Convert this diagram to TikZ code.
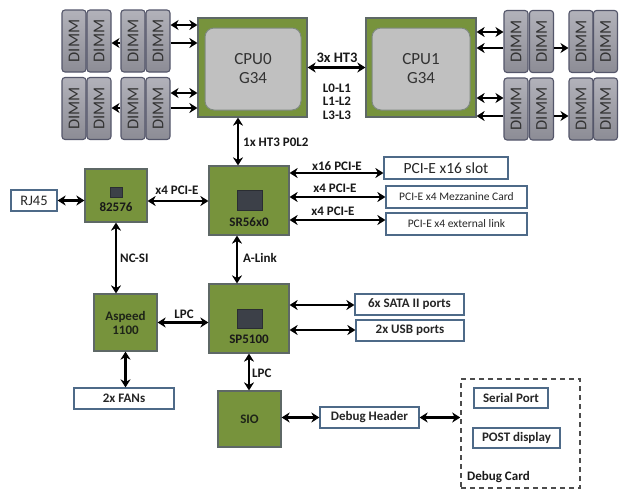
\documentclass[tikz,border=0pt]{standalone}
\usepackage{fontspec}
\setmainfont{Carlito}
\usetikzlibrary{arrows.meta,calc}
\definecolor{grnf}{HTML}{77933C}
\definecolor{grnb}{HTML}{5E6866}
\definecolor{cpuin}{HTML}{C0C0C0}
\definecolor{cpuinb}{HTML}{7F8A80}
\definecolor{chip}{HTML}{3C4048}
\definecolor{dimmt}{HTML}{B2B2BA}
\definecolor{dimmb}{HTML}{8C8C95}
\definecolor{dimmd}{HTML}{54566A}
\definecolor{boxb}{HTML}{4E6A88}
\definecolor{txt}{HTML}{1E2418}
\newcommand\myfs[1]{\fontsize{#1}{#1}\selectfont}
\tikzset{
  grn/.style={draw=grnb, fill=grnf, line width=1.2pt, inner sep=0pt, text=txt},
  cpuin/.style={draw=cpuinb, fill=cpuin, line width=1pt, rounded corners=9pt, inner sep=0pt, align=center, text=black!80, font=\myfs{17}},
  chipsq/.style={fill=chip, draw=chip!70!black, inner sep=0pt},
  dimm/.style={draw=dimmd, top color=dimmt, bottom color=dimmb, line width=1.1pt, rounded corners=3pt, minimum width=24pt, minimum height=62pt, inner sep=0pt, text=black!80, font=\myfs{16.5}},
  wbox/.style={draw=boxb, fill=white, line width=1.2pt, inner sep=0pt, text=black!85},
  blab/.style={font=\bfseries\myfs{13}, text=black!90, inner sep=0pt},
  dbl/.style={line width=2.3pt, {Stealth[length=8pt,width=10pt,inset=2.5pt]}-{Stealth[length=8pt,width=10pt,inset=2.5pt]}},
  sgl/.style={line width=2.3pt, -{Stealth[length=8pt,width=10pt,inset=2.5pt]}},
}
\begin{document}
\begin{tikzpicture}[x=1pt,y=-1pt]
\useasboundingbox (0,0) rectangle (630,493);
\fill[white] (0,0) rectangle (630,493);
% CPUs
\node[grn, minimum width=109pt, minimum height=99pt] (cpu0) at (252.5,67.5) {};
\node[cpuin, minimum width=96pt, minimum height=82pt] (cpu0i) at (253,69) {CPU0\\[2pt]G34};
\node[grn, minimum width=110pt, minimum height=99pt] (cpu1) at (421,67.5) {};
\node[cpuin, minimum width=98pt, minimum height=82pt] (cpu1i) at (421,69) {CPU1\\[2pt]G34};
% DIMMs left
\foreach \n/\x in {1/74,2/99,3/133,4/158}{
  \node[dimm] (lt\n) at (\x,41) {\rotatebox{90}{DIMM}};
  \node[dimm] (lb\n) at (\x,108.5) {\rotatebox{90}{DIMM}};
}
% DIMMs right
\foreach \n/\x in {1/516,2/541.5,3/581,4/605.5}{
  \node[dimm] (rt\n) at (\x,41.5) {\rotatebox{90}{DIMM}};
  \node[dimm] (rb\n) at (\x,109) {\rotatebox{90}{DIMM}};
}
% DIMM arrows left
\draw[dbl] ([yshift=16pt]lt4.east) coordinate (a1) -- (a1 -| cpu0.west);
\draw[sgl] ([yshift=-2pt]lt4.east) coordinate (a2) -- (a2 -| cpu0.west);
\draw[sgl] ([yshift=-2pt]lt3.west) coordinate (a3) -- (a3 -| lt2.east);
\draw[dbl] ([yshift=15.5pt]lb4.east) coordinate (a4) -- (a4 -| cpu0.west);
\draw[sgl] ([yshift=0.5pt]lb4.east) coordinate (a5) -- (a5 -| cpu0.west);
\draw[sgl] ([yshift=0.5pt]lb3.west) coordinate (a6) -- (a6 -| lb2.east);
% DIMM arrows right
\draw[dbl] ([yshift=9.5pt]rt1.west) coordinate (b1) -- (b1 -| cpu1.east);
\draw[sgl] ([yshift=-6.5pt]rt1.west) coordinate (b2) -- (b2 -| cpu1.east);
\draw[sgl] ([yshift=-6.5pt]rt2.east) coordinate (b3) -- (b3 -| rt3.west);
\draw[dbl] ([yshift=11pt]rb1.west) coordinate (b4) -- (b4 -| cpu1.east);
\draw[sgl] ([yshift=-7pt]rb1.west) coordinate (b5) -- (b5 -| cpu1.east);
\draw[sgl] ([yshift=-7pt]rb2.east) coordinate (b6) -- (b6 -| rb3.west);
% HT3 link
\draw[dbl] (cpu0.east) -- (cpu1.west);
\node[blab, font=\bfseries\myfs{14.5}] (ht3) at (337,58) {3x HT3};
\node[blab, align=center, font=\bfseries\fontsize{13}{13.5}\selectfont] (links) at (337,101.5) {L0-L1\\L1-L2\\L3-L3};
% SR56x0
\node[grn, minimum width=80pt, minimum height=69pt] (sr) at (249,200.5) {};
\node[chipsq, minimum width=25pt, minimum height=20pt] (srchip) at (249.5,200) {};
\node[blab] (srl) at (249,222) {SR56x0};
\draw[dbl] ([xshift=-11pt]sr.north) coordinate (c1) -- (c1 |- cpu0.south);
\node[blab, anchor=west] (p0l2) at (243,142) {1x HT3 P0L2};
% 82576 and RJ45
\node[grn, minimum width=62pt, minimum height=53pt] (nic) at (116,195.5) {};
\node[chipsq, minimum width=12pt, minimum height=10pt] (nicchip) at (116,192) {};
\node[blab] (nicl) at (116,207) {82576};
\node[wbox, minimum width=46pt, minimum height=21pt, font=\myfs{14.5}] (rj) at (34,200.5) {RJ45};
\draw[dbl] (rj.east) -- (rj.east -| nic.west);
\draw[dbl] ([yshift=-5.5pt]nic.east) coordinate (c2) -- (c2 -| sr.west);
\node[blab] (x4a) at (177,190) {x4 PCI-E};
% PCI-E slots
\node[wbox, minimum width=124pt, minimum height=22pt, font=\myfs{15.5}] (slot) at (446,168) {PCI-E x16 slot};
\node[wbox, minimum width=141pt, minimum height=22pt, font=\myfs{11.5}] (mezz) at (456.5,197) {PCI-E x4 Mezzanine Card};
\node[wbox, minimum width=141pt, minimum height=22pt, font=\myfs{11.5}] (ext) at (456.5,224) {PCI-E x4 external link};
\draw[dbl] ([yshift=27.5pt]sr.east) coordinate (d1) -- (d1 -| slot.west);
\draw[dbl] ([yshift=3.5pt]sr.east) coordinate (d2) -- (d2 -| mezz.west);
\draw[dbl] ([yshift=-19.5pt]sr.east) coordinate (d3) -- (d3 -| ext.west);
\node[blab] (x16l) at (337,166) {x16 PCI-E};
\node[blab] (x4b) at (335,188) {x4 PCI-E};
\node[blab] (x4c) at (333,211) {x4 PCI-E};
% SP5100
\node[grn, minimum width=80pt, minimum height=69pt] (sp) at (249,318.5) {};
\node[chipsq, minimum width=25pt, minimum height=19pt] (spchip) at (249.5,318.5) {};
\node[blab] (spl) at (249,339) {SP5100};
\draw[dbl] ([xshift=-12pt]sr.south) coordinate (c3) -- (c3 |- sp.north);
\node[blab, anchor=west] (alink) at (243,258) {A-Link};
% Aspeed
\node[grn, minimum width=63pt, minimum height=57pt, align=center, font=\bfseries\myfs{13}] (asp) at (125.5,322.5) {Aspeed\\[1pt]1100};
\draw[dbl] (nic.south) -- (nic.south |- asp.north);
\node[blab, anchor=west] (ncsi) at (120,258) {NC-SI};
\draw[dbl] (asp.east) -- (asp.east -| sp.west);
\node[blab] (lpc1) at (184,314) {LPC};
% FANs
\node[wbox, minimum width=100pt, minimum height=21pt, font=\bfseries\myfs{13}] (fans) at (124,398.5) {2x FANs};
\draw[dbl] (fans.north -| asp.south) -- (asp.south);
% SATA / USB
\node[wbox, minimum width=109pt, minimum height=21pt, font=\bfseries\myfs{13}] (sata) at (409.5,304.5) {6x SATA II ports};
\node[wbox, minimum width=108pt, minimum height=21pt, font=\bfseries\myfs{13}] (usb) at (410,330.5) {2x USB ports};
\draw[dbl] ([yshift=13.5pt]sp.east) coordinate (e1) -- (e1 -| sata.west);
\draw[dbl] ([yshift=-11.5pt]sp.east) coordinate (e2) -- (e2 -| usb.west);
% SIO
\node[grn, minimum width=63pt, minimum height=56pt, font=\bfseries\myfs{13}] (sio) at (249.5,419) {SIO};
\draw[dbl] (sp.south) -- (sp.south |- sio.north);
\node[blab, anchor=west] (lpc2) at (252,373) {LPC};
% Debug
\node[wbox, minimum width=99pt, minimum height=21pt, font=\bfseries\myfs{13}] (dh) at (369.5,417.5) {Debug Header};
\draw[dbl] (sio.east |- dh.west) -- (dh.west);
\node[draw=black!70, dash pattern=on 5pt off 4pt, line width=1.5pt, minimum width=119pt, minimum height=109pt, inner sep=0pt] (card) at (520.5,433.5) {};
\draw[dbl] (dh.east) -- (dh.east -| card.west);
\node[wbox, minimum width=74pt, minimum height=20pt, font=\bfseries\myfs{13}] (serial) at (511,398) {Serial Port};
\node[wbox, minimum width=87pt, minimum height=20pt, font=\bfseries\myfs{13}] (post) at (516.5,438) {POST display};
\node[blab, anchor=west] (dcl) at (467,477) {Debug Card};
\end{tikzpicture}
\end{document}
